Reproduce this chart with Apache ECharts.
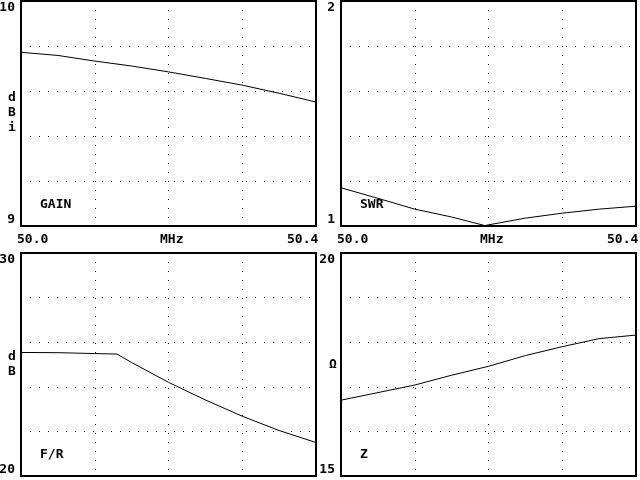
<!DOCTYPE html>
<html><head><meta charset="utf-8">
<script src="https://cdn.jsdelivr.net/npm/echarts@6/dist/echarts.min.js"></script>
<style>html,body{margin:0;padding:0;background:#fff}#c{width:640px;height:480px}</style>
</head><body><div id="c"></div>
<script>
var freqs = [50.0, 50.05, 50.1, 50.15, 50.2, 50.25, 50.3, 50.35, 50.4];
var gain = [9.772, 9.758, 9.733, 9.711, 9.685, 9.656, 9.626, 9.590, 9.551];
var swrFreqs = [50.0, 50.05, 50.1, 50.15, 50.195, 50.25, 50.3, 50.35, 50.4];
var swr = [1.170, 1.123, 1.075, 1.040, 1.002, 1.035, 1.057, 1.075, 1.088];
var frFreqs = [50.0, 50.05, 50.1, 50.13, 50.15, 50.2, 50.25, 50.3, 50.35, 50.4];
var fr = [25.54, 25.53, 25.49, 25.47, 25.09, 24.20, 23.41, 22.68, 22.04, 21.50];
var z = [16.70, 16.87, 17.04, 17.26, 17.46, 17.70, 17.90, 18.08, 18.16];
var xTickLabels = ['50.0', 'MHz', '50.4'];
var panels = [
  {title: 'GAIN', unit: 'd\nB\ni', min: 9, max: 10, xs: freqs, ys: gain},
  {title: 'SWR', unit: '', min: 1, max: 2, xs: swrFreqs, ys: swr},
  {title: 'F/R', unit: 'd\nB', min: 20, max: 30, xs: frFreqs, ys: fr},
  {title: 'Z', unit: '\u03a9', min: 15, max: 20, xs: freqs, ys: z}
];
var FONT = 'DejaVu Sans Mono';
var pos = [
  {left: 21, top: 1, width: 295, height: 225},
  {left: 341, top: 1, width: 295, height: 225},
  {left: 21, top: 253, width: 295, height: 223},
  {left: 341, top: 253, width: 295, height: 223}
];
var unitPos = [{x: 8, y: 90}, null, {x: 8, y: 349}, {x: 329, y: 357}];
var grids = [], xAxes = [], yAxes = [], series = [], graphics = [];
panels.forEach(function (p, i) {
  var g = pos[i];
  grids.push({left: g.left, top: g.top, width: g.width, height: g.height, show: true,
    containLabel: false, outerBoundsMode: 'none',
    borderColor: '#000', borderWidth: 2, backgroundColor: 'transparent'});
  xAxes.push({type: 'value', gridIndex: i, min: 50.0, max: 50.4, interval: 0.1,
    axisLine: {show: false}, axisTick: {show: false}, axisLabel: {show: false},
    splitLine: {show: true, lineStyle: {color: '#000', type: [1, 8], width: 1}}
  });
  var iv = (p.max - p.min) / 5;
  yAxes.push({type: 'value', gridIndex: i, min: p.min, max: p.max, interval: iv,
    axisLine: {show: false}, axisTick: {show: false},
    splitLine: {show: true, lineStyle: {color: '#000', type: [1, 8], width: 1}},
    axisLabel: {margin: 6, color: '#000', fontFamily: FONT, fontWeight: 'bold', fontSize: 13,
      verticalAlignMinLabel: 'bottom', verticalAlignMaxLabel: 'top',
      formatter: function (v) { return (Math.abs(v - p.min) < 1e-9 || Math.abs(v - p.max) < 1e-9) ? String(v) : ''; }}
  });
  series.push({type: 'line', xAxisIndex: i, yAxisIndex: i, symbol: 'none', silent: true,
    lineStyle: {color: '#000', width: 1},
    data: p.xs.map(function (x, j) { return [x, p.ys[j]]; })});
  graphics.push({type: 'text', left: g.left + 19, top: g.top + g.height - 28,
    style: {text: p.title, fill: '#000', font: 'bold 13px ' + FONT}});
  if (p.unit) {
    graphics.push({type: 'text', left: unitPos[i].x, top: unitPos[i].y,
      style: {text: p.unit, fill: '#000', font: 'bold 13px ' + FONT, lineHeight: 15}});
  }
  if (i < 2) {
    var ox = g.left;
    graphics.push({type: 'text', left: ox - 4, top: 233, style: {text: xTickLabels[0], fill: '#000', font: 'bold 13px ' + FONT}});
    graphics.push({type: 'text', left: ox + 139, top: 233, style: {text: xTickLabels[1], fill: '#000', font: 'bold 13px ' + FONT}});
    graphics.push({type: 'text', left: ox + 266, top: 233, style: {text: xTickLabels[2], fill: '#000', font: 'bold 13px ' + FONT}});
  }
});
var chart = echarts.init(document.getElementById('c'), null, {renderer: 'canvas'});
chart.setOption({animation: false, backgroundColor: '#fff', grid: grids, xAxis: xAxes, yAxis: yAxes,
  series: series, graphic: graphics});
</script></body></html>
